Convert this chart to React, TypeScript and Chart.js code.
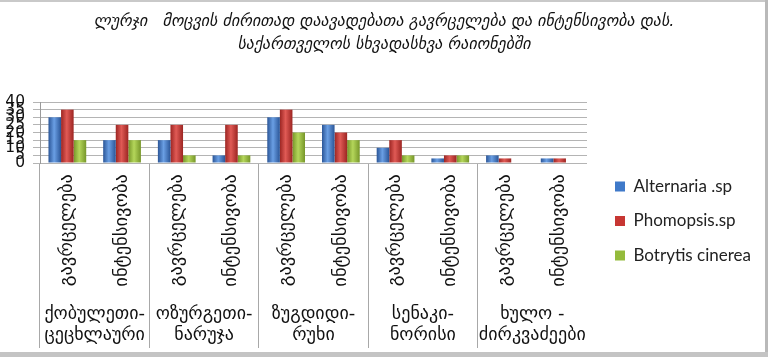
import React, { useEffect, useRef } from 'react';
import { Chart, registerables } from 'chart.js';

Chart.register(...registerables);

// ---- data ----
const titleLines = [
  'ლურჯი   მოცვის ძირითად დაავადებათა გავრცელება და ინტენსივობა დას.',
  'საქართველოს სხვადასხვა რაიონებში',
];
const categories = [
  'გავრცელება', 'ინტენსივობა',
  'გავრცელება', 'ინტენსივობა',
  'გავრცელება', 'ინტენსივობა',
  'გავრცელება', 'ინტენსივობა',
  'გავრცელება', 'ინტენსივობა',
];
const groupLabels = [
  ['ქობულეთი-', 'ცეცხლაური'],
  ['ოზურგეთი-', 'ნარუჯა'],
  ['ზუგდიდი-', 'რუხი'],
  ['სენაკი-', 'ნორისი'],
  ['ხულო -', 'ძირკვაძეები'],
];
const seriesNames = ['Alternaria .sp', 'Phomopsis.sp', 'Botrytis cinerea'];
const alternaria = [30, 15, 15, 5, 30, 25, 10, 3, 5, 3];
const phomopsis = [35, 25, 25, 25, 35, 20, 15, 5, 3, 3];
const botrytis = [15, 15, 5, 5, 20, 15, 5, 5, 0, 0];
const yMin = 0;
const yMax = 40;
const yStep = 5;

// ---- style ----
const baseColors = ['#3f79c9', '#c73633', '#94bb3c'];
const shades = [
  ['#2a5597', '#6a9fe4'],
  ['#9c2522', '#e05a55'],
  ['#769629', '#b4d65a'],
];
const GEO = '"DejaVu Sans", sans-serif';

const tweaks = {
  id: 'tweaks',
  beforeLayout(chart: any) {
    const lg = chart.legend;
    if (lg && !lg.__patched) {
      const orig = lg.fit;
      lg.fit = function () {
        orig.call(this);
        this.width = 181;
      };
      lg.__patched = true;
    }
  },
  beforeDraw(chart: any) {
    const { ctx, width, height } = chart;
    ctx.save();
    ctx.fillStyle = '#ffffff';
    ctx.fillRect(0, 0, width, height);
    ctx.restore();
    const tb = chart.titleBlock;
    if (tb) {
      tb.left = 0;
      tb.right = width;
      tb.width = width;
    }
    const lg = chart.legend;
    if (lg && lg.columnSizes && lg.columnSizes.length) {
      const pad = lg.options.labels.padding;
      const dx = 615 - (lg.left + pad);
      lg.left += dx;
      lg.right += dx;
      const colH = lg.columnSizes[0].height;
      const curY = (lg.top + pad + lg.bottom - colH) / 2;
      const dy = 178 - curY;
      lg.top += dy;
      lg.bottom += dy;
    }
  },
  beforeDatasetsDraw(chart: any) {
    const ctx = chart.ctx;
    chart.data.datasets.forEach((_ds: any, di: number) => {
      const meta = chart.getDatasetMeta(di);
      const [dark, light] = shades[di];
      meta.data.forEach((el: any) => {
        const { x, width } = el.getProps(['x', 'width'], true);
        const g = ctx.createLinearGradient(x - width / 2, 0, x + width / 2, 0);
        g.addColorStop(0, dark);
        g.addColorStop(0.45, light);
        g.addColorStop(1, dark);
        try {
          el.options.backgroundColor = g;
        } catch (e) {
          /* ignore */
        }
      });
    });
  },
  afterDraw(chart: any) {
    const { ctx } = chart;
    ctx.save();
    ctx.fillStyle = '#c9c9c9';
    ctx.fillRect(0, 0, 768, 2);
    ctx.fillStyle = '#b9b9b9';
    ctx.fillRect(765, 0, 3, 357);
    ctx.fillStyle = '#c4c4c4';
    ctx.fillRect(0, 352, 768, 5);
    ctx.restore();
  },
};

export default function App() {
  const ref = useRef<HTMLCanvasElement | null>(null);
  useEffect(() => {
    if (!ref.current) return;
    const chart = new Chart(ref.current, {
      type: 'bar',
      data: {
        labels: categories,
        datasets: [alternaria, phomopsis, botrytis].map((d, i) => ({
          label: seriesNames[i],
          data: d,
          backgroundColor: (c: any) => baseColors[c.datasetIndex],
          borderWidth: 0,
          categoryPercentage: 0.69,
          barPercentage: 1,
          xAxisID: 'x',
        })),
      },
      options: {
        responsive: false,
        animation: false,
        events: [],
        layout: { padding: 0 },
        plugins: {
          title: {
            display: true,
            text: titleLines,
            color: '#111',
            font: { family: GEO, size: 16, style: 'italic', weight: 'normal', lineHeight: '23px' },
            padding: { top: 10.5, bottom: 45.5 },
          },
          legend: {
            display: true,
            position: 'right',
            labels: {
              boxWidth: 10,
              boxHeight: 10,
              padding: 17.5,
              color: '#222',
              font: { family: 'Lato, "Open Sans", sans-serif', size: 17 },
            },
          },
          tooltip: { enabled: false },
        },
        scales: {
          x: {
            type: 'category',
            position: 'bottom',
            offset: true,
            grid: {
              offset: true,
              display: true,
              drawOnChartArea: false,
              drawTicks: true,
              tickLength: 185,
              color: (c: any) => (c.index % 2 === 0 ? '#a8a8a8' : 'rgba(0,0,0,0)'),
              lineWidth: 1,
            },
            border: { display: false },
            ticks: {
              autoSkip: false,
              minRotation: 90,
              maxRotation: 90,
              padding: 11 - 185,
              color: '#111',
              font: { family: GEO, size: 18.5 },
            },
            afterFit: (s: any) => {
              s.height = 135;
            },
          },
          x2: {
            type: 'category',
            position: 'bottom',
            labels: groupLabels as any,
            offset: true,
            grid: { display: false, drawTicks: false },
            border: { display: false },
            ticks: {
              autoSkip: false,
              minRotation: 0,
              maxRotation: 0,
              padding: 6,
              color: '#111',
              font: { family: GEO, size: 18, lineHeight: '21px' },
            },
            afterFit: (s: any) => {
              s.height = 59;
            },
          },
          y: {
            min: yMin,
            max: yMax,
            grid: { color: '#b4b4b4', lineWidth: 1, tickLength: 7 },
            border: { display: true, color: '#9a9a9a' },
            ticks: {
              stepSize: yStep,
              autoSkip: false,
              padding: 8,
              color: '#111',
              font: { family: GEO, size: 15.5 },
            },
            afterFit: (s: any) => {
              s.width = 40;
            },
          },
        },
      } as any,
      plugins: [tweaks],
    });
    return () => chart.destroy();
  }, []);
  return (
    <canvas
      ref={ref}
      width={768}
      height={357}
      style={{ position: 'absolute', left: 0, top: 0, width: 768, height: 357 }}
    />
  );
}
